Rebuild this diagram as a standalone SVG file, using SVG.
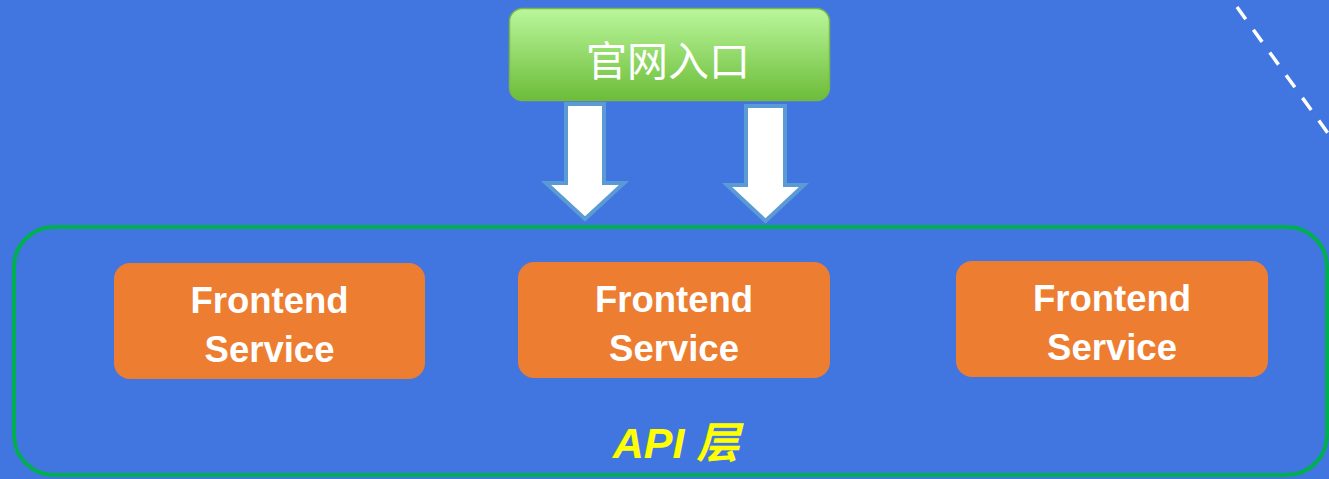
<svg xmlns="http://www.w3.org/2000/svg" width="1329" height="479" viewBox="0 0 1329 479">
<defs>
<linearGradient id="gGreen" x1="0" y1="0" x2="0" y2="1">
<stop offset="0" stop-color="#BAF79C"/>
<stop offset="1" stop-color="#6CBC38"/>
</linearGradient>
<style>
.svc{fill:#ED7D31}
.svct{font-family:"Liberation Sans",Arial,sans-serif;font-weight:bold;font-size:36.5px;fill:#FFFFFF;text-anchor:middle}
.arrow{fill:#FFFFFF;stroke:#5B9BD5;stroke-width:4;stroke-linejoin:miter}
</style>
</defs>
<rect x="0" y="0" width="1329" height="479" fill="#4176E0"/>
<line x1="1237" y1="7" x2="1340" y2="150" stroke="#FFFFFF" stroke-width="3.5" stroke-dasharray="15 13"/>
<g id="api-layer">
<rect x="14" y="227" width="1313" height="248" rx="40" fill="none" stroke="#00B050" stroke-width="4"/>
<text x="676" y="458" font-family="'Liberation Sans','Noto Sans CJK SC',sans-serif" font-style="italic" font-weight="bold" font-size="43" fill="#FFFF00" text-anchor="middle">API 层</text>
</g>
<g id="entry">
<rect x="509.5" y="8.5" width="320" height="92" rx="13" fill="url(#gGreen)" stroke="#7AB648" stroke-width="1.5"/>
<text x="668" y="76" font-family="'Noto Sans CJK SC',sans-serif" font-size="41" fill="#FFFFFF" text-anchor="middle">官网入口</text>
</g>
<g id="connectors">
<path class="arrow" d="M566,104 H604 V183 H624 L585,219 L546,183 H566 Z"/>
<path class="arrow" d="M746,106 H785 V185 H804 L765.5,221 L727,185 H746 Z"/>
</g>
<g id="svc1">
<rect class="svc" x="114" y="263" width="311" height="116" rx="16"/>
<text class="svct" x="269.5" y="313">Frontend</text>
<text class="svct" x="269.5" y="362">Service</text>
</g>
<g id="svc2">
<rect class="svc" x="518" y="262" width="312" height="116" rx="16"/>
<text class="svct" x="674" y="312">Frontend</text>
<text class="svct" x="674" y="361">Service</text>
</g>
<g id="svc3">
<rect class="svc" x="956" y="261" width="312" height="116" rx="16"/>
<text class="svct" x="1112" y="311">Frontend</text>
<text class="svct" x="1112" y="360">Service</text>
</g>
</svg>
